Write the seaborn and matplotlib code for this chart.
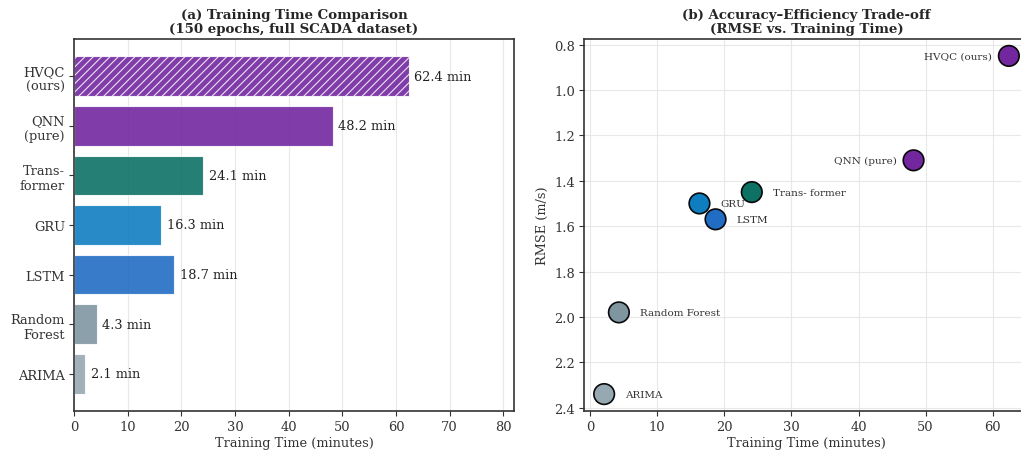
import matplotlib
matplotlib.use("Agg")
import matplotlib.pyplot as plt
import seaborn as sns
import pandas as pd

# Model names, training times (minutes) and RMSE (m/s)
models = ["HVQC\n(ours)", "QNN\n(pure)", "Trans-\nformer", "GRU", "LSTM", "Random\nForest", "ARIMA"]
train_time = [62.4, 48.2, 24.1, 16.3, 18.7, 4.3, 2.1]
rmse = [0.85, 1.31, 1.45, 1.50, 1.57, 1.98, 2.34]
colors = ["#6A1B9A", "#6A1B9A", "#00695C", "#0277BD", "#1565C0", "#78909C", "#90A4AE"]

sns.set_style("whitegrid")
plt.rcParams["font.family"] = ["DejaVu Serif"]
plt.rcParams["axes.edgecolor"] = "#333333"
plt.rcParams["axes.linewidth"] = 1.2
plt.rcParams["grid.color"] = "#e6e6e6"
plt.rcParams["xtick.bottom"] = True
plt.rcParams["ytick.left"] = True
plt.rcParams["xtick.color"] = "#333333"
plt.rcParams["ytick.color"] = "#333333"
plt.rcParams["xtick.major.size"] = 3.5
plt.rcParams["ytick.major.size"] = 3.5
plt.rcParams["hatch.color"] = "#f0e6f5"
plt.rcParams["hatch.linewidth"] = 0.8

df = pd.DataFrame({"model": models, "time": train_time, "rmse": rmse})

fig = plt.figure(figsize=(10.21, 4.52), dpi=100)
ax1 = fig.add_axes([74 / 1021, 40 / 452, (514 - 74) / 1021, (412 - 40) / 452])
ax2 = fig.add_axes([584 / 1021, 40 / 452, (1029 - 584) / 1021, (412 - 40) / 452])

# (a) horizontal bars
sns.barplot(data=df, y="model", x="time", hue="model", palette=colors,
            legend=False, orient="h", ax=ax1, width=0.8, alpha=0.85,
            saturation=1, edgecolor="white", linewidth=0.8)
ax1.patches[0].set_hatch("////")
for p, v in zip(ax1.patches, train_time):
    ax1.text(v + 1.0, p.get_y() + p.get_height() / 2, f"{v} min",
             va="center", ha="left", fontsize=9.3, color="#222222")
ax1.set_xlim(0, 82)
ax1.set_ylim(6.75, -0.75)
ax1.set_xlabel("Training Time (minutes)", fontsize=9.3, color="#333333", labelpad=2)
ax1.set_ylabel("")
ax1.set_title("(a) Training Time Comparison\n(150 epochs, full SCADA dataset)",
              fontsize=9.6, fontweight="bold", linespacing=1.1, pad=5)
ax1.grid(axis="y", visible=False)
ax1.grid(axis="x", alpha=0.9)
ax1.tick_params(labelsize=9.4, pad=3)

# (b) accuracy vs efficiency scatter
sns.scatterplot(data=df, x="time", y="rmse", hue="model", palette=colors,
                legend=False, s=220, edgecolor="black", linewidth=1.2,
                alpha=0.95, ax=ax2, zorder=3)
label_names = [m.replace("\n", " ") for m in models]
for name, x, y in zip(label_names, train_time, rmse):
    if name.startswith("HVQC") or name.startswith("QNN"):
        ax2.annotate(name, (x, y), xytext=(-12, 0), textcoords="offset points",
                     ha="right", va="center", fontsize=7.5, color="#333333")
    else:
        ax2.annotate(name, (x, y), xytext=(15, 0), textcoords="offset points",
                     ha="left", va="center", fontsize=7.5, color="#333333")
ax2.set_xlim(-0.9, 65.4)
ax2.set_ylim(2.4145, 0.7755)
ax2.set_yticks([0.8, 1.0, 1.2, 1.4, 1.6, 1.8, 2.0, 2.2, 2.4])
ax2.set_xlabel("Training Time (minutes)", fontsize=9.3, color="#333333", labelpad=2)
ax2.set_ylabel("RMSE (m/s)", fontsize=9.3, color="#333333")
ax2.set_title("(b) Accuracy–Efficiency Trade-off\n(RMSE vs. Training Time)",
              fontsize=9.6, fontweight="bold", linespacing=1.1, pad=5)
ax2.grid(alpha=0.9)
ax2.tick_params(labelsize=9.4, pad=3)

fig.savefig("out.png", dpi=100)
